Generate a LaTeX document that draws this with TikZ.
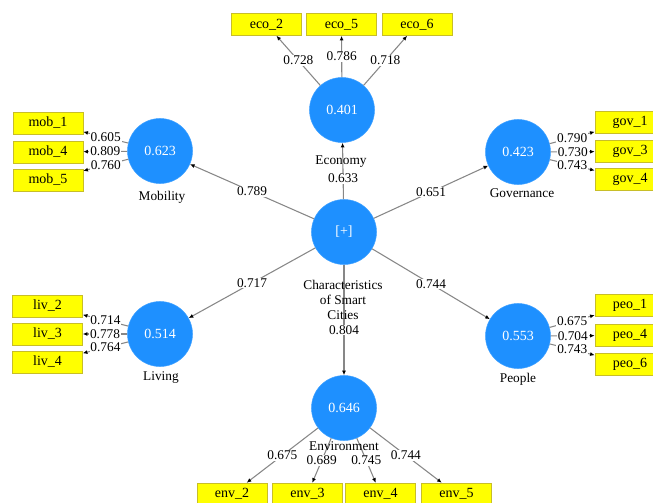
\documentclass[tikz,border=0pt]{standalone}
\usepackage{fontspec}
\setmainfont{Liberation Serif}
\usetikzlibrary{arrows.meta}
\definecolor{lvblue}{RGB}{30,144,255}
\definecolor{indyellow}{RGB}{255,255,0}
\definecolor{indedge}{RGB}{200,190,40}
\definecolor{pathgray}{RGB}{135,135,135}
\tikzset{
  lv/.style={circle, fill=lvblue, draw=lvblue!85!white, minimum size=48.75pt, inner sep=0pt, text=white, font=\fontsize{10.5}{12}\selectfont},
  ind/.style={rectangle, fill=indyellow, draw=indedge, line width=0.4pt, minimum width=52.5pt, minimum height=16.5pt, inner sep=0pt, font=\fontsize{10.5}{12}\selectfont},
  lvname/.style={inner sep=1pt, font=\fontsize{10}{12}\selectfont, align=center},
  coef/.style={fill=white, inner sep=0.6pt, font=\fontsize{10}{12}\selectfont},
  arr/.style={-{Latex[color=black, length=3.5pt, width=3pt]}, draw=pathgray, line width=0.8pt},
}

\begin{document}
\begin{tikzpicture}[x=0.75pt,y=-0.75pt]
\clip (0,0) rectangle (653,503);
\useasboundingbox (0,0) rectangle (653,503);
% latent variables
\node[lv] (csc) at (344,232) {[+]};
\node[lv] (eco) at (342,110) {0.401};
\node[lv] (mob) at (160,151) {0.623};
\node[lv] (gov) at (518,152) {0.423};
\node[lv] (liv) at (160,334) {0.514};
\node[lv] (peo) at (518,336) {0.553};
\node[lv] (env) at (344,408) {0.646};
% indicators
\node[ind] (eco2) at (266.5,24.5) {eco\_2};
\node[ind] (eco5) at (341.5,24.5) {eco\_5};
\node[ind] (eco6) at (417,24.5) {eco\_6};
\node[ind] (mob1) at (48,123) {mob\_1};
\node[ind] (mob4) at (48,152) {mob\_4};
\node[ind] (mob5) at (48,180) {mob\_5};
\node[ind] (gov1) at (630,122.5) {gov\_1};
\node[ind] (gov3) at (630,151.5) {gov\_3};
\node[ind] (gov4) at (630,179) {gov\_4};
\node[ind] (liv2) at (47.5,306) {liv\_2};
\node[ind] (liv3) at (47.5,334) {liv\_3};
\node[ind] (liv4) at (47.5,362) {liv\_4};
\node[ind] (peo1) at (630,305.5) {peo\_1};
\node[ind] (peo4) at (630,335.5) {peo\_4};
\node[ind] (peo6) at (630,364) {peo\_6};
\node[ind] (env2) at (232,494) {env\_2};
\node[ind] (env3) at (307.5,494) {env\_3};
\node[ind] (env4) at (380.5,494) {env\_4};
\node[ind] (env5) at (456.5,494) {env\_5};
% inner model
\draw[arr] (csc) -- node[coef,pos=0.37]{0.633} (eco);
\draw[arr] (csc) -- node[coef]{0.789} (mob);
\draw[arr] (csc) -- node[coef]{0.651} (gov);
\draw[arr] (csc) -- node[coef]{0.717} (liv);
\draw[arr] (csc) -- node[coef]{0.744} (peo);
\draw[arr] (csc) -- node[coef,pos=0.59]{0.804} (env);
% outer model
\draw[arr] (eco) -- node[coef]{0.728} (eco2);
\draw[arr] (eco) -- node[coef]{0.786} (eco5);
\draw[arr] (eco) -- node[coef]{0.718} (eco6);
\draw[arr] (mob) -- node[coef]{0.605} (mob1);
\draw[arr] (mob) -- node[coef]{0.809} (mob4);
\draw[arr] (mob) -- node[coef]{0.760} (mob5);
\draw[arr] (gov) -- node[coef]{0.790} (gov1);
\draw[arr] (gov) -- node[coef]{0.730} (gov3);
\draw[arr] (gov) -- node[coef]{0.743} (gov4);
\draw[arr] (liv) -- node[coef]{0.714} (liv2);
\draw[arr] (liv) -- node[coef]{0.778} (liv3);
\draw[arr] (liv) -- node[coef]{0.764} (liv4);
\draw[arr] (peo) -- node[coef]{0.675} (peo1);
\draw[arr] (peo) -- node[coef]{0.704} (peo4);
\draw[arr] (peo) -- node[coef]{0.743} (peo6);
\draw[arr] (env) -- node[coef]{0.675} (env2);
\draw[arr] (env) -- node[coef]{0.689} (env3);
\draw[arr] (env) -- node[coef]{0.745} (env4);
\draw[arr] (env) -- node[coef]{0.744} (env5);
% construct names
\node[lvname] (econame) at (341,162) {Economy};
\node[lvname] (mobname) at (162,197) {Mobility};
\node[lvname] (govname) at (522,193) {Governance};
\node[lvname] (livname) at (161,378) {Living};
\node[lvname] (peoname) at (518,379) {People};
\node[lvname] (envname) at (344,446) {Environment};
\node[lvname] (cscname) at (343,300) {Characteristics\\[-1pt]of Smart\\[-1pt]Cities};
\end{tikzpicture}
\end{document}
